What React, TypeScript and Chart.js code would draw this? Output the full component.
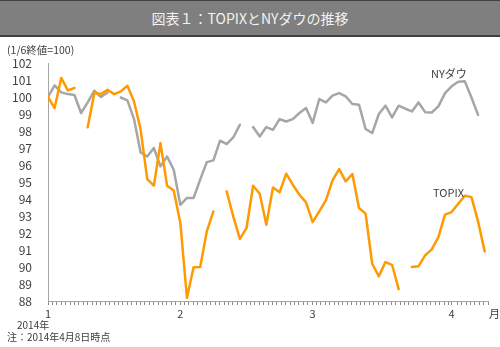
import React, { useEffect, useRef } from "react";
import { Chart, registerables } from "chart.js";

Chart.register(...registerables);

const dates = [
  "1/6", "1/7", "1/8", "1/9", "1/10", "1/13", "1/14", "1/15", "1/16", "1/17",
  "1/20", "1/21", "1/22", "1/23", "1/24", "1/27", "1/28", "1/29", "1/30", "1/31",
  "2/3", "2/4", "2/5", "2/6", "2/7", "2/10", "2/11", "2/12", "2/13", "2/14",
  "2/17", "2/18", "2/19", "2/20", "2/21", "2/24", "2/25", "2/26", "2/27", "2/28",
  "3/3", "3/4", "3/5", "3/6", "3/7", "3/10", "3/11", "3/12", "3/13", "3/14",
  "3/17", "3/18", "3/19", "3/20", "3/21", "3/24", "3/25", "3/26", "3/27", "3/28",
  "3/31", "4/1", "4/2", "4/3", "4/4", "4/7", "4/8",
];

const topix: (number | null)[] = [
  100, 99.35, 101.12, 100.39, 100.53, null, 98.22, 100.23, 100.17, 100.43,
  100.17, 100.33, 100.66, 99.74, 98.08, 95.17, 94.78, 97.29, 94.78, 94.5,
  92.59, 88.18, 89.99, 90.0, 92.09, 93.27, null, 94.45, 92.98, 91.65,
  92.29, 94.78, 94.31, 92.49, 94.68, 94.39, 95.49, 94.84, 94.25, 93.8,
  92.64, 93.27, 93.92, 95.1, 95.76, 95.04, 95.47, 93.47, 93.14, 90.19,
  89.45, 90.29, 90.13, 88.7, null, 90.0, 90.05, 90.68, 91.04, 91.76,
  93.08, 93.23, 93.72, 94.19, 94.11, 92.68, 90.92,
];

const nyDow: (number | null)[] = [
  100, 100.68, 100.27, 100.17, 100.12, 99.06, 99.68, 100.37, 100.0, 100.27,
  null, 99.97, 99.8, 98.7, 96.74, 96.5, 97.0, 95.92, 96.5, 95.72,
  93.66, 94.06, 94.06, 95.14, 96.17, 96.27, 97.43, 97.23, 97.62, 98.37,
  null, 98.23, 97.68, 98.23, 98.07, 98.7, 98.56, 98.7, 99.06, 99.35,
  98.47, 99.88, 99.68, 100.08, 100.23, 100.04, 99.59, 99.55, 98.12, 97.88,
  99.0, 99.49, 98.8, 99.49, 99.31, 99.15, 99.68, 99.11, 99.09, 99.45,
  100.23, 100.63, 100.9, 100.92, 99.97, 98.95, null,
];

const monthTickDates = ["1/6", "2/3", "3/3", "4/1"];
const monthTickLabels = ["1", "2", "3", "4"];

const yMin = 88;
const yMax = 102;
const minorTickCount = 100;

const JP_FONT = "'Noto Sans CJK JP', 'Noto Sans', sans-serif";

export default function App() {
  const canvasRef = useRef<HTMLCanvasElement | null>(null);

  useEffect(() => {
    document.body.style.margin = "0";
    const canvas = canvasRef.current;
    if (!canvas) return;

    const xMax = dates.length - 0.5;
    const labelIdx = monthTickDates.map((d) => dates.indexOf(d));
    const toPoints = (arr: (number | null)[]) =>
      arr.map((v, i) => ({ x: i, y: v }));

    const chart = new Chart(canvas, {
      type: "line",
      data: {
        datasets: [
          {
            label: "TOPIX",
            data: toPoints(topix) as any,
            borderColor: "#ff9a00",
            borderWidth: 2.5,
            pointRadius: 0,
            spanGaps: false,
            borderJoinStyle: "round",
            borderCapStyle: "round",
            tension: 0,
          },
          {
            label: "NYダウ",
            data: toPoints(nyDow) as any,
            borderColor: "#a6a6a6",
            borderWidth: 2.5,
            pointRadius: 0,
            spanGaps: false,
            borderJoinStyle: "round",
            borderCapStyle: "round",
            tension: 0,
          },
        ],
      },
      options: {
        animation: false,
        responsive: false,
        maintainAspectRatio: false,
        layout: { padding: { top: 63, right: 12, bottom: 26, left: 0 } },
        plugins: {
          legend: { display: false },
          tooltip: { enabled: false },
          title: { display: false },
        },
        scales: {
          x: {
            type: "linear",
            min: 0,
            max: xMax,
            afterBuildTicks: (scale: any) => {
              const ticks: { value: number }[] = [];
              const step = xMax / minorTickCount;
              for (let k = 0; k <= minorTickCount; k++) {
                let v = k * step;
                for (const li of labelIdx) {
                  if (Math.abs(v - li) < step / 2) v = li;
                }
                ticks.push({ value: v });
              }
              scale.ticks = ticks;
            },
            afterFit: (scale: any) => {
              scale.height = 20;
            },
            ticks: {
              autoSkip: false,
              maxRotation: 0,
              minRotation: 0,
              padding: 2,
              color: "#404040",
              font: { family: JP_FONT, size: 11 },
              callback: (value: any) => {
                const j = labelIdx.indexOf(Number(value));
                return j >= 0 ? monthTickLabels[j] : "";
              },
            },
            grid: {
              display: true,
              drawOnChartArea: false,
              drawTicks: true,
              tickLength: 4,
              color: "#8c8c8c",
              lineWidth: 1,
            },
            border: { display: true, color: "#a6a6a6", width: 1 },
          },
          y: {
            type: "linear",
            min: yMin,
            max: yMax,
            afterFit: (scale: any) => {
              scale.width = 48;
            },
            ticks: {
              stepSize: 1,
              autoSkip: false,
              padding: 16,
              color: "#404040",
              font: { family: JP_FONT, size: 12 },
            },
            grid: { display: false, drawTicks: false },
            border: { display: true, color: "#a6a6a6", width: 1 },
          },
        },
      },
    });

    return () => {
      chart.destroy();
    };
  }, []);

  const txt = (
    text: string,
    left: number,
    centerY: number,
    size: number,
    extra: React.CSSProperties = {}
  ) => (
    <div
      style={{
        position: "absolute",
        left,
        top: centerY - size / 2,
        fontSize: size,
        lineHeight: `${size}px`,
        fontFamily: JP_FONT,
        color: "#404040",
        whiteSpace: "nowrap",
        ...extra,
      }}
    >
      {text}
    </div>
  );

  return (
    <div
      style={{
        position: "absolute",
        left: 0,
        top: 0,
        width: 500,
        height: 347,
        background: "#ffffff",
        overflow: "hidden",
      }}
    >
      <canvas
        ref={canvasRef}
        width={500}
        height={347}
        style={{ position: "absolute", left: 0, top: 0, width: 500, height: 347 }}
      />
      <div
        style={{
          position: "absolute",
          left: 0,
          top: 0,
          width: 500,
          height: 37,
          boxSizing: "border-box",
          background: "#7f7f7f",
          borderTop: "1px solid #404040",
          borderBottom: "2px solid #404040",
          color: "#f2f2f2",
          fontFamily: JP_FONT,
          fontSize: 14,
          lineHeight: "34px",
          textAlign: "center",
        }}
      >
        図表１：TOPIXとNYダウの推移
      </div>
      {txt("(1/6終値=100)", 7, 50, 10.5)}
      {txt("NYダウ", 431, 73, 11)}
      {txt("TOPIX", 433, 192, 11)}
      {txt("月", 489, 313, 11)}
      {txt("2014年", 17, 325, 10)}
      {txt("注：2014年4月8日時点", 7, 337, 10)}
    </div>
  );
}
